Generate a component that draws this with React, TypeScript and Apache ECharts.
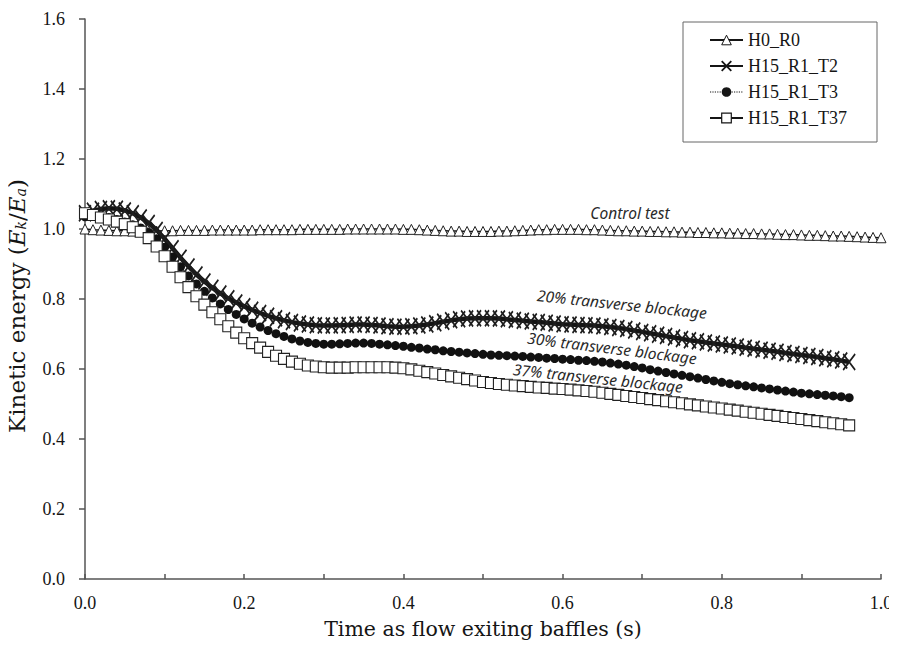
import React, { useEffect, useRef } from "react";
import * as echarts from "echarts";

const TIME_STEP = 0.01;

const SERIES_NAMES = ["H0_R0", "H15_R1_T2", "H15_R1_T3", "H15_R1_T37"];

// H0_R0 – control test, t = 0.00 … 1.00
const H0_R0 = [
  1.0, 0.998, 0.997, 0.996, 0.995, 0.995, 0.994, 0.994, 0.994, 0.994,
  0.995, 0.995, 0.996, 0.996, 0.996, 0.996, 0.997, 0.997, 0.997, 0.997,
  0.997, 0.997, 0.998, 0.998, 0.998, 0.998, 0.998, 0.999, 0.999, 0.999,
  0.999, 0.999, 0.999, 1.0, 1.0, 1.0, 1.0, 1.0, 1.0, 1.0,
  0.999, 0.999, 0.998, 0.997, 0.996, 0.995, 0.994, 0.994, 0.993, 0.993,
  0.993, 0.993, 0.994, 0.994, 0.995, 0.996, 0.997, 0.998, 0.998, 0.999,
  0.999, 0.999, 0.999, 0.998, 0.998, 0.997, 0.996, 0.995, 0.995, 0.994,
  0.994, 0.993, 0.993, 0.992, 0.992, 0.991, 0.991, 0.99, 0.99, 0.989,
  0.989, 0.988, 0.988, 0.987, 0.987, 0.986, 0.986, 0.985, 0.984, 0.984,
  0.983, 0.982, 0.982, 0.981, 0.98, 0.98, 0.979, 0.978, 0.977, 0.976,
  0.975,
];

// H15_R1_T2 – 20% transverse blockage, t = 0.00 … 0.96
const H15_R1_T2 = [
  1.045, 1.052, 1.057, 1.059, 1.058, 1.053, 1.045, 1.033, 1.017, 0.997,
  0.972, 0.945, 0.918, 0.893, 0.87, 0.85, 0.832, 0.816, 0.802, 0.79,
  0.779, 0.769, 0.76, 0.752, 0.745, 0.739, 0.734, 0.73, 0.727, 0.725,
  0.724, 0.724, 0.725, 0.726, 0.727, 0.727, 0.726, 0.724, 0.722, 0.721,
  0.721, 0.722, 0.724, 0.727, 0.731, 0.735, 0.739, 0.742, 0.744, 0.745,
  0.745, 0.745, 0.744, 0.742, 0.74, 0.738, 0.736, 0.734, 0.732, 0.73,
  0.728, 0.727, 0.726, 0.725, 0.724, 0.722, 0.72, 0.717, 0.714, 0.71,
  0.706, 0.702, 0.698, 0.694, 0.69, 0.686, 0.682, 0.679, 0.676, 0.673,
  0.67, 0.667, 0.664, 0.661, 0.658, 0.655, 0.652, 0.649, 0.646, 0.643,
  0.64, 0.637, 0.634, 0.631, 0.628, 0.624, 0.62,
];

// H15_R1_T3 – 30% transverse blockage, t = 0.00 … 0.96
const H15_R1_T3 = [
  1.035, 1.038, 1.037, 1.033, 1.027, 1.02, 1.012, 1.003, 0.99, 0.972,
  0.948, 0.92, 0.892, 0.866, 0.843, 0.822, 0.803, 0.786, 0.77, 0.756,
  0.743, 0.731, 0.72, 0.71, 0.701, 0.693, 0.686, 0.68, 0.676, 0.673,
  0.671, 0.671, 0.672, 0.673, 0.674, 0.674, 0.673, 0.671, 0.669, 0.667,
  0.665, 0.662, 0.66, 0.657, 0.655, 0.652, 0.65, 0.648, 0.646, 0.644,
  0.642, 0.64, 0.639, 0.638, 0.637, 0.636, 0.634, 0.633, 0.631, 0.63,
  0.628, 0.627, 0.625, 0.624, 0.622, 0.62, 0.617, 0.614, 0.611, 0.607,
  0.603, 0.598, 0.594, 0.59, 0.586, 0.582, 0.578, 0.574, 0.57, 0.566,
  0.562, 0.558, 0.555, 0.552, 0.549, 0.546, 0.543, 0.54, 0.537, 0.534,
  0.531, 0.529, 0.527, 0.525, 0.523, 0.521, 0.518,
];

// H15_R1_T37 – 37% transverse blockage, t = 0.00 … 0.96
const H15_R1_T37 = [
  1.045, 1.04, 1.033, 1.027, 1.021, 1.014, 1.005, 0.992, 0.974, 0.95,
  0.922, 0.892, 0.862, 0.834, 0.808, 0.784, 0.762, 0.742, 0.722, 0.704,
  0.688, 0.674, 0.661, 0.649, 0.638, 0.629, 0.621, 0.615, 0.61, 0.607,
  0.605, 0.604, 0.604, 0.604, 0.605, 0.605, 0.605, 0.605, 0.605, 0.604,
  0.602, 0.599, 0.595, 0.591, 0.587, 0.583, 0.579, 0.575, 0.571, 0.567,
  0.563, 0.56, 0.557, 0.555, 0.553, 0.551, 0.549, 0.547, 0.546, 0.544,
  0.543, 0.541, 0.539, 0.537, 0.535, 0.532, 0.529, 0.526, 0.523, 0.52,
  0.517, 0.514, 0.511, 0.508, 0.505, 0.502, 0.499, 0.496, 0.493, 0.49,
  0.487, 0.484, 0.481, 0.478, 0.475, 0.472, 0.469, 0.466, 0.463, 0.46,
  0.457, 0.454, 0.451, 0.448, 0.445, 0.442, 0.439,
];

const X_TICKS = { min: 0, max: 1.0, interval: 0.2 };
const Y_TICKS = { min: 0, max: 1.6, interval: 0.2 };

const ANNOTATIONS = [
  { text: "Control test", x: 630, y: 213, angle: 0 },
  { text: "20% transverse blockage", x: 622, y: 304, angle: -6 },
  { text: "30% transverse blockage", x: 612, y: 348, angle: -7 },
  { text: "37% transverse blockage", x: 598, y: 378, angle: -6 },
];

const toPairs = (vals: number[]) =>
  vals.map((v, i) => [Number((i * TIME_STEP).toFixed(2)), v]);

const SERIF = '"Liberation Serif", "DejaVu Serif", serif';
const TITLE_SERIF = '"DejaVu Serif", "Liberation Serif", serif';
const INK = "#151515";
const AXIS = "#555";
const CROSS = "path://M0,0L10,10M10,0L0,10";

export default function App() {
  const ref = useRef<HTMLDivElement>(null);

  useEffect(() => {
    if (!ref.current) return;
    const chart = echarts.init(ref.current, undefined, { renderer: "svg" });

    const option: any = {
      animation: false,
      backgroundColor: "#fff",
      grid: { left: 85, right: 16, top: 19, bottom: 74, containLabel: false, outerBoundsMode: "none" },
      legend: {
        orient: "vertical",
        left: 683,
        top: 22,
        padding: [9, 30, 15, 26],
        itemGap: 8,
        itemWidth: 33,
        itemHeight: 12,
        backgroundColor: "#fff",
        borderColor: "#666",
        borderWidth: 1,
        borderRadius: 0,
        textStyle: { fontFamily: SERIF, fontSize: 18, color: INK, padding: [0, 0, 0, 0] },
        data: [
          { name: SERIES_NAMES[0], itemStyle: { color: "#fff", borderColor: INK, borderWidth: 1 }, lineStyle: { width: 2, color: INK, type: "solid" } },
          { name: SERIES_NAMES[1], itemStyle: { color: "none", borderColor: INK, borderWidth: 1.8 }, lineStyle: { width: 2, color: INK, type: "solid" } },
          { name: SERIES_NAMES[2], itemStyle: { color: INK, borderWidth: 0 }, lineStyle: { width: 1.2, color: INK, type: "dotted" } },
          { name: SERIES_NAMES[3], itemStyle: { color: "#fff", borderColor: INK, borderWidth: 1.2 }, lineStyle: { width: 2, color: INK, type: "solid" } },
        ],
      },
      xAxis: {
        type: "value",
        min: X_TICKS.min,
        max: X_TICKS.max,
        interval: X_TICKS.interval,
        name: "Time as flow exiting baffles (s)",
        nameLocation: "middle",
        nameGap: 39,
        nameTextStyle: { fontFamily: TITLE_SERIF, fontSize: 20.5, color: INK },
        axisLine: { show: true, lineStyle: { color: AXIS, width: 1.5 } },
        axisTick: { show: true, inside: true, length: 5, lineStyle: { color: AXIS, width: 1.5 } },
        minorTick: { show: true, splitNumber: 2, length: 5, lineStyle: { color: AXIS, width: 1.5 } },
        axisLabel: {
          fontFamily: SERIF,
          fontSize: 18,
          color: INK,
          margin: 15,
          formatter: (v: number) => v.toFixed(1),
        },
        splitLine: { show: false },
      },
      yAxis: {
        type: "value",
        min: Y_TICKS.min,
        max: Y_TICKS.max,
        interval: Y_TICKS.interval,
        name: "Kinetic energy ({i|E}{s|k}{n|/}{i|E}{s|a}{n|)}",
        nameLocation: "middle",
        nameGap: 57,
        nameRotate: 90,
        nameTextStyle: {
          fontFamily: TITLE_SERIF,
          fontSize: 23,
          color: INK,
          padding: [0, 14, 0, 0],
          rich: {
            i: { fontFamily: TITLE_SERIF, fontSize: 23, fontStyle: "italic", color: INK },
            s: { fontFamily: TITLE_SERIF, fontSize: 14, fontStyle: "italic", color: INK, verticalAlign: "bottom", padding: [9, 0, 0, 0] },
            n: { fontFamily: TITLE_SERIF, fontSize: 23, color: INK },
          },
        },
        axisLine: { show: true, lineStyle: { color: AXIS, width: 1.5 } },
        axisTick: { show: true, inside: false, length: 6, lineStyle: { color: AXIS, width: 1.5 } },
        axisLabel: {
          fontFamily: SERIF,
          fontSize: 18,
          color: INK,
          margin: 20,
          formatter: (v: number) => v.toFixed(1),
        },
        splitLine: { show: false },
      },
      graphic: ANNOTATIONS.map((a) => ({
        type: "text",
        x: a.x,
        y: a.y,
        rotation: (a.angle * Math.PI) / 180,
        z: 100,
        style: {
          text: a.text,
          font: 'italic 15.5px "Noto Sans", "Open Sans", sans-serif',
          fill: "#2a2a2a",
          align: "center",
          verticalAlign: "middle",
        },
      })),
      series: [
        {
          name: SERIES_NAMES[0],
          type: "line",
          data: toPairs(H0_R0),
          symbol: "triangle",
          symbolSize: 10,
          showAllSymbol: true,
          lineStyle: { color: INK, width: 1.5 },
          itemStyle: { color: "#fff", borderColor: "#222", borderWidth: 1 },
          z: 2,
        },
        {
          name: SERIES_NAMES[1],
          type: "line",
          data: toPairs(H15_R1_T2),
          symbol: CROSS,
          symbolSize: [12, 16],
          showAllSymbol: true,
          lineStyle: { color: INK, width: 4.5 },
          itemStyle: { color: "none", borderColor: "#1e1e1e", borderWidth: 1.8 },
          z: 3,
        },
        {
          name: SERIES_NAMES[2],
          type: "line",
          data: toPairs(H15_R1_T3),
          symbol: "circle",
          symbolSize: 9,
          showAllSymbol: true,
          lineStyle: { color: INK, width: 1.2, type: "dotted" },
          itemStyle: { color: "#111", borderWidth: 0 },
          z: 4,
        },
        {
          name: SERIES_NAMES[3],
          type: "line",
          data: toPairs(H15_R1_T37),
          symbol: "rect",
          symbolSize: 11,
          showAllSymbol: true,
          lineStyle: { color: INK, width: 1.8 },
          itemStyle: { color: "#fff", borderColor: "#222", borderWidth: 1.1 },
          z: 5,
        },
      ],
    };

    chart.setOption(option);
    return () => chart.dispose();
  }, []);

  return <div ref={ref} style={{ width: 897, height: 653, margin: -8 }} />;
}
